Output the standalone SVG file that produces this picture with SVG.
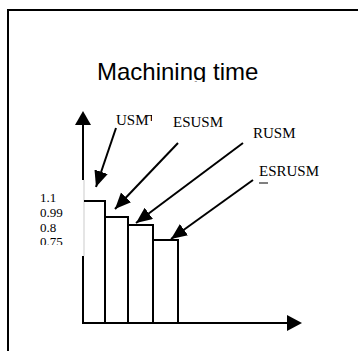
<svg xmlns="http://www.w3.org/2000/svg" width="358" height="351" viewBox="0 0 358 351">
<style>
.ln{stroke:#000;stroke-width:2;fill:none}
.bar{stroke:#000;stroke-width:2;fill:#fff}
.ser{font-family:"Liberation Serif","Times New Roman",serif;fill:#000}
.lab{font-size:15px}
.num{font-size:13px}
.ttl{font-family:"Liberation Sans",Arial,sans-serif;font-size:24px;fill:#000}
.ptr{stroke:#000;stroke-width:2;fill:none;marker-end:url(#ah)}
</style>
<defs>
<marker id="ah" markerUnits="userSpaceOnUse" markerWidth="17" markerHeight="15" refX="16" refY="7" orient="auto">
<path d="M0,0 L16,7 L0,14 z" fill="#000"/>
</marker>
<clipPath id="tclip"><rect x="0" y="40" width="358" height="42"/></clipPath>
<clipPath id="uclip"><rect x="140" y="100" width="12" height="21"/></clipPath>
<clipPath id="nclip"><rect x="30" y="230" width="40" height="15"/></clipPath>
</defs>
<rect width="358" height="351" fill="#fff"/>
<g id="frame">
<path class="ln" d="M8,351 V10 H358"/>
</g>
<g id="title">
<text class="ttl" x="97" y="80" clip-path="url(#tclip)">Machining time</text>
</g>
<g id="bars">
<path d="M84,180 V256" stroke="#ddd" stroke-width="1.5" fill="none"/>
<path class="ln" d="M84,201 H105 V323"/>
<path class="ln" d="M105,217 H128 V323"/>
<path class="ln" d="M128,225 H153 V323"/>
<path class="ln" d="M153,240 H178 V323"/>
</g>
<g id="axes">
<path class="ln" d="M83,124 V180"/>
<path class="ln" d="M83,256 V323 H288"/>
<path d="M75,125 L83,111 L91,125 z" fill="#000"/>
<path d="M287,315 L302,323 L287,331 z" fill="#000"/>
</g>
<g id="ticks">
<text class="ser num" x="40" y="202">1.1</text>
<text class="ser num" x="40" y="217">0.99</text>
<text class="ser num" x="40" y="232">0.8</text>
<text class="ser num" x="40" y="246" clip-path="url(#nclip)">0.75</text>
</g>
<g id="label-usm">
<text class="ser lab" x="116" y="125">USM</text>
<text class="ser lab" x="147" y="125" clip-path="url(#uclip)">T</text>
</g>
<g id="label-esusm">
<text class="ser lab" x="173" y="127">ESUSM</text>
</g>
<g id="label-rusm">
<text class="ser lab" x="253" y="138">RUSM</text>
</g>
<g id="label-esrusm">
<text class="ser lab" x="259" y="176">ESRUSM</text>
<path d="M259,183 H268" stroke="#000" stroke-width="1"/>
</g>
<g id="connectors">
<line class="ptr" x1="116" y1="128" x2="96" y2="187"/>
<line class="ptr" x1="178" y1="143" x2="115" y2="209"/>
<line class="ptr" x1="243" y1="143" x2="136" y2="223"/>
<line class="ptr" x1="253" y1="180" x2="171" y2="239"/>
</g>
</svg>
